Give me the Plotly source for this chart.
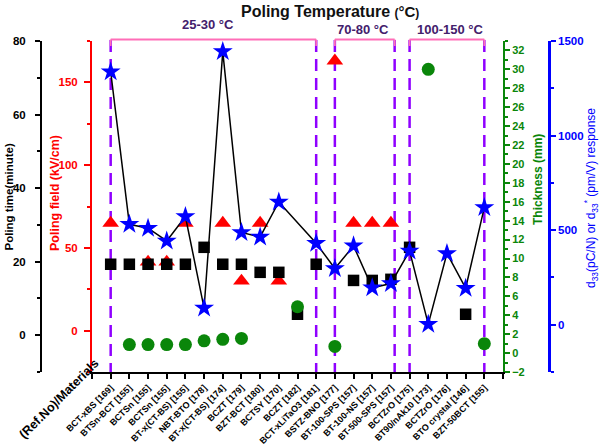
import plotly.graph_objects as go

# ---------------- data ----------------
materials = ["BCT-xBS [169]", "BTSn-BCT [155]", "BCTSn [155]", "BCTSn [155]",
             "BT-x(CT-BS) [155]", "NBT-BTO [178]", "BT-x(CT-BS) [174]", "BCZT [179]",
             "BZT-BCT [180]", "BCTSY [170]", "BCZT [182]", "BCT-xLiTaO3 [181]",
             "BSTZ-BNO [177]", "BT-100-SPS [157]", "BT-100-NS [157]", "BT-500-SPS [157]",
             "BCTZrO [175]", "BT90/nAk10 [173]", "BCTZrO [176]", "BTO crystal [146]",
             "BZT-50BCT [155]"]
positions = list(range(1, 22))
poling_time = [19.3, 19.3, 19.3, 19.3, 19.3, 23.9, 19.3, 19.3, 17.1, 17.1, 5.7, 19.3,
               None, 14.9, 14.9, 15.2, 23.9, None, None, 5.7, None]
poling_field = [65, None, 41.5, 41.5, 65, None, 65, 30, 65, 30, None, None,
                163, 65, 65, 65, None, None, None, None, None]
thickness = [None, 0.9, 0.9, 0.9, 0.9, 1.3, 1.45, 1.55, None, None, 4.9, None,
             0.7, None, None, None, None, 30, None, None, 1.0]
d33 = [1338, 531, 510, 443, 572, 88, 1444, 488, 464, 649, None, 431,
       297, 417, 195, 218, 390, 3, 377, 193, 620]

temp_groups = ["25-30 °C", "70-80 °C", "100-150 °C"]
group_bounds = [(1, 12), (13, 16.2), (17, 21)]

# ---------------- layout helpers (page pixel -> paper) ----------------
W, H = 600, 445
ML, MR = 2, 2
PLOT_TOP, PLOT_BOT = 41, 372
MT = PLOT_TOP
MB = H - PLOT_BOT
PW = W - ML - MR
PH = H - MT - MB


def px(p):
    return (p - ML) / PW


def py(p):
    return (PLOT_BOT - p) / PH


FONT = "Liberation Sans, Arial, sans-serif"
RED = "#FF0000"
GREEN = "#0A860A"
BLUE = "#0000FF"
PURPLE = "#8F00FF"
PINK = "#FF6EB8"
DPURPLE = "#43206C"

fig = go.Figure()

fig.add_trace(go.Scatter(x=positions, y=poling_time, mode="markers", yaxis="y2",
                         marker=dict(symbol="square", size=11.5, color="black"),
                         name="Poling time"))
fig.add_trace(go.Scatter(x=positions, y=poling_field, mode="markers", yaxis="y",
                         marker=dict(symbol="triangle-up", size=14.5, color=RED),
                         name="Poling field"))
fig.add_trace(go.Scatter(x=positions, y=thickness, mode="markers", yaxis="y3",
                         marker=dict(symbol="circle", size=13, color=GREEN),
                         name="Thickness"))
fig.add_trace(go.Scatter(x=positions, y=d33, mode="lines+markers", yaxis="y4",
                         connectgaps=True,
                         line=dict(color="black", width=1.5),
                         marker=dict(symbol="star", size=15, color=BLUE),
                         name="d33"))

shapes = []
xs_dash = []
for a, b in group_bounds:
    xs_dash += [a, b]
for xv in xs_dash:
    shapes.append(dict(type="line", xref="x", yref="paper", x0=xv, x1=xv,
                       y0=py(40), y1=0, layer="below",
                       line=dict(color=PURPLE, width=2.5, dash="12px,7px")))
for a, b in group_bounds:
    shapes.append(dict(type="line", xref="x", yref="paper", x0=a, x1=b,
                       y0=py(39.5), y1=py(39.5), line=dict(color=PINK, width=1.8)))
    for xv in (a, b):
        shapes.append(dict(type="line", xref="x", yref="paper", x0=xv, x1=xv,
                           y0=py(39.5), y1=py(46), line=dict(color=PINK, width=1.8)))

annotations = []
label_pos = [(208, 25), (363, 29), (450.7, 29)]
for txt, (lx, ly) in zip(temp_groups, label_pos):
    annotations.append(dict(text=txt, xref="paper", yref="paper", x=px(lx), y=py(ly),
                            showarrow=False, xanchor="center", yanchor="middle",
                            font=dict(family=FONT, size=13, color=DPURPLE, weight="bold")))
annotations.append(dict(
    text="Poling Temperature <span style='font-size:12px'>(</span><span style='font-size:15px'>°C</span><span style='font-size:12px'>)</span>",
    xref="paper", yref="paper", x=px(330), y=py(12), showarrow=False,
    xanchor="center", yanchor="middle",
    font=dict(family=FONT, size=16, color="#111111", weight="bold")))
annotations.append(dict(text="Poling time(minute)", xref="paper", yref="paper",
                        x=px(8.5), y=py(197), textangle=-90, showarrow=False,
                        xanchor="center", yanchor="middle",
                        font=dict(family=FONT, size=11.5, color="black", weight="bold")))
annotations.append(dict(text="Poling field (kV/cm)", xref="paper", yref="paper",
                        x=px(54.5), y=py(193.5), textangle=-90, showarrow=False,
                        xanchor="center", yanchor="middle",
                        font=dict(family=FONT, size=12.5, color=RED, weight="bold")))
annotations.append(dict(text="Thickness (mm)", xref="paper", yref="paper",
                        x=px(538), y=py(180), textangle=-90, showarrow=False,
                        xanchor="center", yanchor="middle",
                        font=dict(family=FONT, size=12, color=GREEN, weight="bold")))
annotations.append(dict(text="d<sub>33</sub>(pC/N) or d<sub>33</sub><sup>*</sup> (pm/V) response",
                        xref="paper", yref="paper",
                        x=px(591), y=py(198), textangle=-90, showarrow=False,
                        xanchor="center", yanchor="middle",
                        font=dict(family=FONT, size=12, color=BLUE)))
annotations.append(dict(text="(Ref.No)/Materials", xref="paper", yref="paper",
                        x=px(59), y=py(399), textangle=-45, showarrow=False,
                        xanchor="center", yanchor="middle",
                        font=dict(family=FONT, size=12.5, color="black", weight="bold")))

tickvals = list(range(0, 23))
ticktext = [""] + materials + [""]

fig.update_layout(
    template="none",
    width=W, height=H,
    margin=dict(l=ML, r=MR, t=MT, b=MB, autoexpand=False),
    paper_bgcolor="white", plot_bgcolor="white",
    showlegend=False,
    shapes=shapes, annotations=annotations,
    font=dict(family=FONT),
    xaxis=dict(domain=[px(92), px(503)], range=[0, 22], tickmode="array",
               tickvals=tickvals, ticktext=ticktext, tickangle=-45, automargin=False,
               ticks="outside", ticklen=5, tickwidth=1.5, tickcolor="black",
               showline=True, linecolor="black", linewidth=2, showgrid=False,
               zeroline=False,
               tickfont=dict(family=FONT, size=9, color="black", weight="bold")),
    yaxis=dict(domain=[0, 1], range=[-25, 175], tick0=0, dtick=50, side="left", anchor="x",
               automargin=False,
               showline=True, linecolor=RED, linewidth=2, showgrid=False, zeroline=False,
               ticks="outside", ticklen=6, tickwidth=1.5, tickcolor=RED,
               minor=dict(dtick=25, tick0=0, ticks="outside", ticklen=3, tickcolor=RED),
               ticklabelstandoff=4,
               tickfont=dict(family=FONT, size=11.5, color=RED, weight="bold")),
    yaxis2=dict(range=[-10, 80], tick0=0, dtick=20, side="left", anchor="free",
                position=px(41), overlaying="y", automargin=False,
                showline=True, linecolor="black", linewidth=2, showgrid=False,
                zeroline=False, ticks="outside", ticklen=5, tickwidth=1.5,
                tickcolor="black",
                minor=dict(dtick=10, tick0=0, ticks="outside", ticklen=3, tickcolor="black"),
                ticklabelstandoff=7,
                tickfont=dict(family=FONT, size=11.5, color="black", weight="bold")),
    yaxis3=dict(range=[-2, 33], tick0=0, dtick=2, side="right", anchor="x",
                overlaying="y", automargin=False,
                showline=True, linecolor=GREEN, linewidth=2, showgrid=False,
                zeroline=False, ticks="outside", ticklen=5, tickwidth=1.5,
                tickcolor=GREEN,
                minor=dict(dtick=1, tick0=0, ticks="outside", ticklen=3, tickcolor=GREEN),
                tickfont=dict(family=FONT, size=11, color=GREEN, weight="bold")),
    yaxis4=dict(range=[-250, 1500], tick0=0, dtick=500, side="right", anchor="free",
                position=px(549), overlaying="y", automargin=False,
                showline=True, linecolor=BLUE, linewidth=2.5, showgrid=False,
                zeroline=False, ticks="outside", ticklen=5, tickwidth=1.5,
                tickcolor=BLUE,
                minor=dict(dtick=250, tick0=0, ticks="outside", ticklen=3, tickcolor=BLUE),
                tickfont=dict(family=FONT, size=11.5, color=BLUE, weight="bold")),
)

fig.write_html("out.html", config={"displayModeBar": False},
               post_script="document.body.style.margin='0px';")
